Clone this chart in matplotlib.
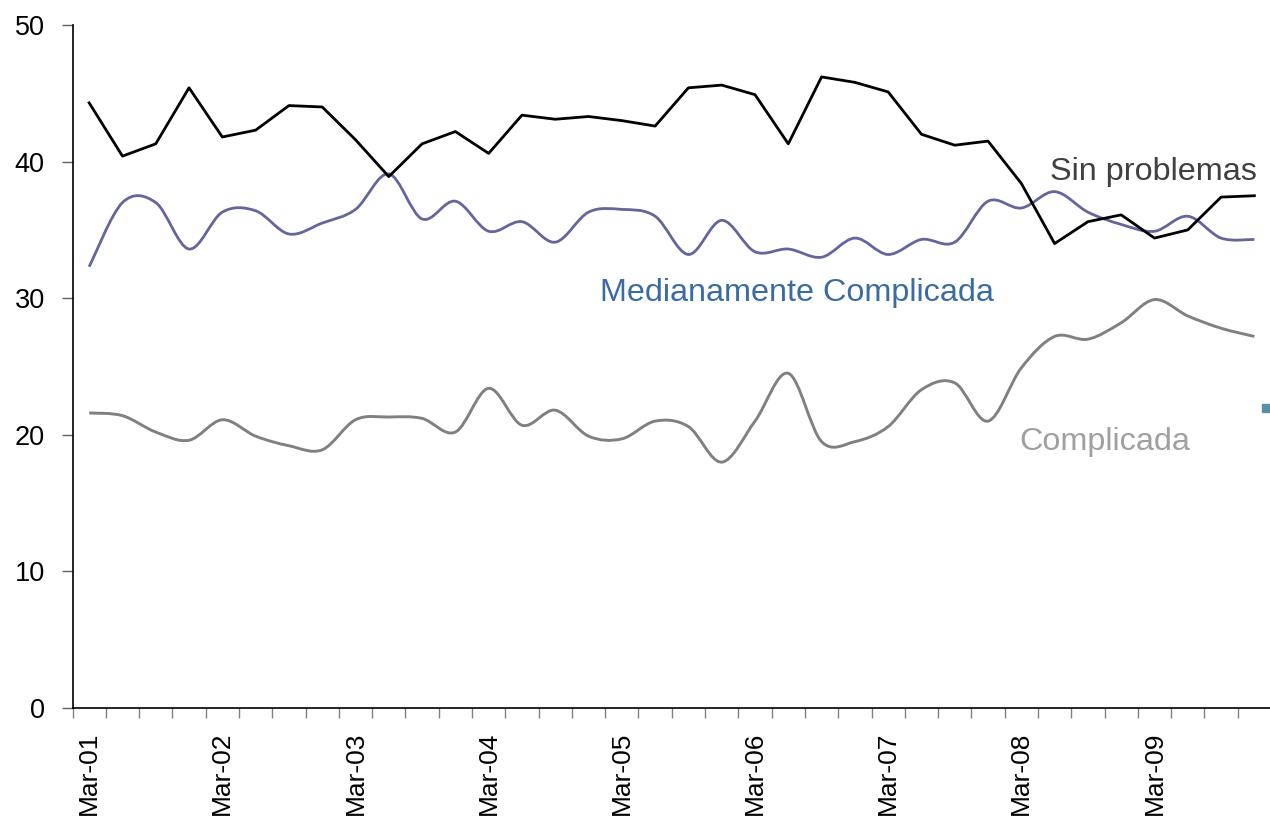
import numpy as np
import matplotlib
matplotlib.use("Agg")
import matplotlib.pyplot as plt
from matplotlib.path import Path
from matplotlib.patches import PathPatch, Rectangle
from matplotlib import font_manager

# Quarterly survey, Mar-01 .. Dec-09
quarters = ["Mar", "Jun", "Sep", "Dec"]
years = ["01", "02", "03", "04", "05", "06", "07", "08", "09"]
periods = [f"{q}-{y}" for y in years for q in quarters]

sin_problemas = [44.3, 40.4, 41.3, 45.4, 41.8, 42.3, 44.1, 44.0, 41.6, 38.9,
                 41.3, 42.2, 40.6, 43.4, 43.1, 43.3, 43.0, 42.6, 45.4, 45.6,
                 44.9, 41.3, 46.2, 45.8, 45.1, 42.0, 41.2, 41.5, 38.4, 34.0,
                 35.6, 36.1, 34.4, 35.0, 37.4, 37.5]

medianamente = [32.3, 37.0, 37.0, 33.6, 36.3, 36.4, 34.7, 35.5, 36.5, 39.1,
                35.8, 37.1, 34.9, 35.6, 34.1, 36.3, 36.5, 36.0, 33.2, 35.7,
                33.4, 33.6, 33.0, 34.4, 33.2, 34.3, 34.1, 37.1, 36.6, 37.8,
                36.3, 35.4, 34.9, 36.0, 34.4, 34.3]

complicada = [21.6, 21.4, 20.2, 19.6, 21.1, 19.9, 19.2, 18.9, 21.1, 21.3,
              21.2, 20.2, 23.4, 20.7, 21.8, 19.9, 19.7, 21.0, 20.6, 18.0,
              21.0, 24.5, 19.5, 19.5, 20.6, 23.3, 23.8, 21.0, 24.9, 27.2,
              27.0, 28.2, 29.9, 28.7, 27.8, 27.2]


def has_font(name):
    try:
        font_manager.findfont(name, fallback_to_default=False)
        return True
    except ValueError:
        return False


base_font = "Liberation Sans" if has_font("Liberation Sans") else "DejaVu Sans"
if has_font("Liberation Sans Narrow"):
    label_font, label_size = "Liberation Sans Narrow", 27
else:
    label_font, label_size = base_font, 23.3

plt.rcParams["font.family"] = [base_font, "DejaVu Sans"]


def smooth_path(x, y):
    # Bezier curve through every point, like a spreadsheet "smoothed line"
    x = np.asarray(x, float)
    y = np.asarray(y, float)
    n = len(x)
    verts = [(x[0], y[0])]
    codes = [Path.MOVETO]
    for i in range(n - 1):
        p0 = i - 1 if i > 0 else i
        p3 = i + 2 if i + 2 < n else i + 1
        c1 = (x[i] + (x[i + 1] - x[p0]) / 6, y[i] + (y[i + 1] - y[p0]) / 6)
        c2 = (x[i + 1] - (x[p3] - x[i]) / 6, y[i + 1] - (y[p3] - y[i]) / 6)
        verts += [c1, c2, (x[i + 1], y[i + 1])]
        codes += [Path.CURVE4] * 3
    return Path(verts, codes)


xs = np.arange(len(periods))

fig = plt.figure(figsize=(12.7, 8.22), dpi=100)
ax = fig.add_axes([0.0571, 0.1387, 0.9437, 0.8309])

ax.plot(xs, sin_problemas, color="black", lw=2.0, zorder=3)
ax.add_patch(PathPatch(smooth_path(xs, medianamente), fill=False,
                       edgecolor="#65659e", lw=2.0, zorder=2))
ax.add_patch(PathPatch(smooth_path(xs, complicada), fill=False,
                       edgecolor="#808080", lw=2.1, zorder=2))

ax.set_xlim(-0.5, len(periods) - 0.5)
ax.set_ylim(0, 50)

# labels
ax.text(35.07, 38.65, "Sin problemas", ha="right", va="baseline",
        color="#404040", fontsize=label_size, family=[label_font, "DejaVu Sans"])
ax.text(15.34, 29.82, "Medianamente Complicada", ha="left", va="baseline",
        color="#3a6ca3", fontsize=label_size, family=[label_font, "DejaVu Sans"])
ax.text(27.95, 18.89, "Complicada", ha="left", va="baseline",
        color="#a0a0a0", fontsize=label_size, family=[label_font, "DejaVu Sans"])

# axes styling
for s in ["top", "right"]:
    ax.spines[s].set_visible(False)
ax.spines["left"].set_linewidth(1.2)
ax.spines["bottom"].set_linewidth(1.2)

ax.set_yticks([0, 10, 20, 30, 40, 50])
ax.tick_params(axis="y", length=8, width=1, color="#606060", pad=12,
               labelsize=19.5)

ax.set_xticks(xs[::4])
ax.set_xticklabels(periods[::4], rotation=90)
ax.set_xticks(np.arange(-0.5, len(periods), 1.0), minor=True)
ax.tick_params(axis="x", which="major", length=0, pad=17, labelsize=19)
ax.tick_params(axis="x", which="minor", length=7, width=1, color="#808080")

# leftover legend key at the right edge
fig.add_artist(Rectangle((1262 / 1270, 1 - 412 / 822), 8 / 1270, 8 / 822,
                         transform=fig.transFigure, color="#5b8fa6"))

fig.savefig("out.png", dpi=100)
